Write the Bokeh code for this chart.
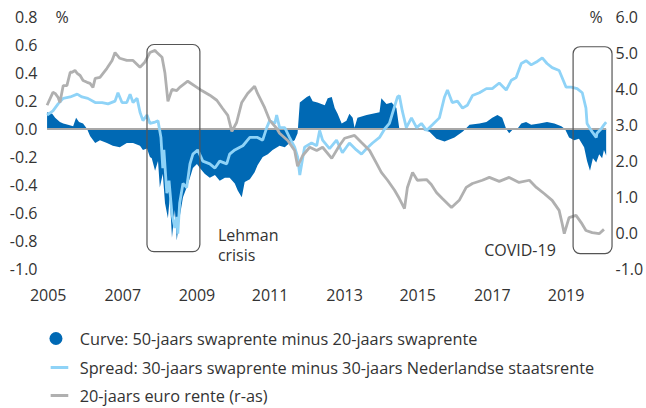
from bokeh.plotting import figure
from bokeh.models import Range1d, LinearAxis, FixedTicker, CustomJSTickFormatter, BoxAnnotation, Label
from bokeh.layouts import column
from bokeh.embed import file_html
from bokeh.resources import INLINE
from bokeh.core.properties import value

# ---------------- data ----------------
# Curve: 50y swap minus 20y swap (left axis, %)
curve_t = [2005.57, 2005.71, 2005.79, 2005.92, 2006.01, 2006.14, 2006.28, 2006.36, 2006.44, 2006.55,
           2006.66, 2006.74, 2006.88, 2007.01, 2007.20, 2007.36, 2007.55, 2007.74, 2007.91, 2008.10,
           2008.18, 2008.29, 2008.37, 2008.42, 2008.51, 2008.59, 2008.64, 2008.72, 2008.78, 2008.86,
           2008.91, 2008.97, 2009.05, 2009.10, 2009.18, 2009.27, 2009.37, 2009.46, 2009.54, 2009.65,
           2009.73, 2009.86, 2010.00, 2010.14, 2010.27, 2010.41, 2010.54, 2010.68, 2010.76, 2010.87,
           2010.95, 2011.09, 2011.22, 2011.30, 2011.44, 2011.58, 2011.71, 2011.90, 2012.04, 2012.17,
           2012.31, 2012.39, 2012.45, 2012.64, 2012.72, 2012.80, 2012.93, 2013.13, 2013.21, 2013.32,
           2013.40, 2013.48, 2013.59, 2013.72, 2013.80, 2013.89, 2013.94, 2014.02, 2014.27, 2014.43,
           2014.62, 2014.67, 2014.81, 2014.95, 2015.08, 2015.16, 2015.43, 2015.71, 2015.98, 2016.17,
           2016.39, 2016.66, 2016.88, 2016.96, 2017.07, 2017.34, 2017.53, 2017.69, 2017.83, 2017.96,
           2018.07, 2018.15, 2018.26, 2018.37, 2018.48, 2018.61, 2018.75, 2018.97, 2019.18, 2019.38,
           2019.57, 2019.67, 2019.78, 2019.92, 2020.05, 2020.19, 2020.27, 2020.35, 2020.43, 2020.52,
           2020.60, 2020.68, 2020.73, 2020.79]
curve = [0.12, 0.11, 0.08, 0.05, 0.04, 0.03, 0.02, 0.08, 0.05, 0.04,
         0.00, -0.05, -0.10, -0.08, -0.10, -0.12, -0.13, -0.10, -0.10, -0.12,
         -0.15, -0.14, -0.20, -0.21, -0.30, -0.23, -0.42, -0.32, -0.53, -0.64,
         -0.49, -0.78, -0.58, -0.80, -0.63, -0.49, -0.42, -0.35, -0.28, -0.25,
         -0.28, -0.32, -0.35, -0.33, -0.37, -0.35, -0.35, -0.39, -0.44, -0.49,
         -0.38, -0.36, -0.31, -0.26, -0.20, -0.18, -0.15, -0.12, -0.13, -0.10,
         -0.08, -0.03, 0.19, 0.23, 0.24, 0.20, 0.19, 0.17, 0.22, 0.23,
         0.15, 0.11, 0.04, 0.06, 0.11, 0.08, 0.01, 0.08, 0.10, 0.11,
         0.12, 0.22, 0.18, 0.19, 0.15, 0.00, 0.00, 0.00, -0.02, -0.07,
         -0.09, -0.06, -0.02, 0.00, 0.03, 0.04, 0.05, 0.08, 0.10, 0.08,
         0.00, -0.03, 0.00, 0.00, 0.04, 0.05, 0.03, 0.04, 0.05, 0.04,
         0.02, 0.00, -0.06, -0.08, -0.07, -0.13, -0.23, -0.30, -0.21, -0.24,
         -0.18, -0.21, -0.15, -0.19]

# Spread: 30y swap minus 30y Dutch government yield (left axis, %)
spread_t = [2005.57, 2005.73, 2005.87, 2006.01, 2006.20, 2006.39, 2006.52, 2006.68, 2006.88, 2007.07,
            2007.23, 2007.42, 2007.50, 2007.61, 2007.74, 2007.83, 2007.91, 2008.02, 2008.10, 2008.18,
            2008.29, 2008.37, 2008.51, 2008.59, 2008.67, 2008.72, 2008.75, 2008.83, 2008.89, 2008.97,
            2009.05, 2009.10, 2009.13, 2009.18, 2009.27, 2009.37, 2009.46, 2009.54, 2009.67, 2009.81,
            2010.00, 2010.14, 2010.27, 2010.46, 2010.54, 2010.68, 2010.82, 2010.90, 2011.09, 2011.30,
            2011.44, 2011.55, 2011.63, 2011.77, 2011.82, 2011.90, 2012.04, 2012.17, 2012.31, 2012.39,
            2012.45, 2012.58, 2012.77, 2012.91, 2012.99, 2013.07, 2013.26, 2013.45, 2013.61, 2013.80,
            2013.99, 2014.13, 2014.27, 2014.43, 2014.62, 2014.76, 2014.89, 2014.97, 2015.11, 2015.16,
            2015.24, 2015.35, 2015.49, 2015.63, 2015.76, 2015.90, 2016.06, 2016.25, 2016.39, 2016.47,
            2016.60, 2016.74, 2016.88, 2017.01, 2017.15, 2017.34, 2017.53, 2017.69, 2017.88, 2018.07,
            2018.21, 2018.34, 2018.48, 2018.61, 2018.75, 2018.89, 2019.05, 2019.18, 2019.32, 2019.51,
            2019.59, 2019.70, 2019.84, 2020.00, 2020.14, 2020.24, 2020.27, 2020.38, 2020.52, 2020.54,
            2020.65, 2020.73, 2020.79]
spread = [0.10, 0.13, 0.18, 0.22, 0.23, 0.25, 0.23, 0.22, 0.19, 0.19,
          0.18, 0.20, 0.26, 0.19, 0.19, 0.25, 0.19, 0.22, 0.12, 0.06,
          0.10, 0.04, 0.05, 0.06, -0.06, -0.28, -0.15, -0.46, -0.37, -0.61,
          -0.71, -0.63, -0.75, -0.53, -0.39, -0.42, -0.25, -0.18, -0.15, -0.23,
          -0.25, -0.28, -0.23, -0.25, -0.18, -0.15, -0.13, -0.12, -0.06, -0.06,
          -0.08, 0.01, 0.06, 0.04, 0.10, 0.01, 0.01, -0.06, -0.13, -0.20,
          -0.33, -0.13, -0.10, -0.12, -0.01, -0.08, -0.14, -0.08, -0.17, -0.10,
          -0.15, -0.18, -0.14, -0.10, -0.06, 0.00, 0.04, 0.11, 0.23, 0.24,
          0.13, 0.01, 0.08, 0.01, 0.04, -0.01, 0.03, 0.08, 0.23, 0.28,
          0.19, 0.20, 0.15, 0.17, 0.24, 0.26, 0.29, 0.29, 0.33, 0.28,
          0.35, 0.37, 0.47, 0.49, 0.46, 0.48, 0.51, 0.47, 0.44, 0.42,
          0.37, 0.30, 0.30, 0.29, 0.26, 0.15, 0.04, -0.01, -0.06, -0.03,
          0.00, 0.03, 0.05]

# 20-year euro rate (right axis, %)
euro_t = [2005.57, 2005.73, 2005.79, 2005.87, 2005.92, 2006.01, 2006.11, 2006.20, 2006.25, 2006.33,
          2006.39, 2006.47, 2006.55, 2006.66, 2006.74, 2006.82, 2006.88, 2007.01, 2007.20, 2007.34,
          2007.42, 2007.55, 2007.74, 2007.91, 2008.10, 2008.23, 2008.37, 2008.51, 2008.56, 2008.70,
          2008.78, 2008.86, 2008.97, 2009.10, 2009.18, 2009.40, 2009.65, 2009.78, 2010.00, 2010.19,
          2010.35, 2010.49, 2010.60, 2010.73, 2010.87, 2011.03, 2011.22, 2011.30, 2011.49, 2011.63,
          2011.82, 2011.90, 2012.12, 2012.31, 2012.39, 2012.53, 2012.72, 2012.91, 2013.07, 2013.32,
          2013.53, 2013.67, 2013.94, 2014.13, 2014.35, 2014.54, 2014.67, 2014.84, 2015.03, 2015.16,
          2015.30, 2015.38, 2015.52, 2015.65, 2015.90, 2016.03, 2016.17, 2016.33, 2016.58, 2016.79,
          2016.98, 2017.15, 2017.42, 2017.61, 2017.88, 2018.15, 2018.42, 2018.70, 2018.89, 2019.10,
          2019.32, 2019.51, 2019.59, 2019.65, 2019.78, 2019.97, 2020.11, 2020.24, 2020.41, 2020.60,
          2020.73]
euro = [3.55, 3.91, 3.88, 3.77, 3.63, 4.10, 4.10, 4.47, 4.47, 4.52,
        4.44, 4.38, 4.24, 4.19, 4.16, 4.05, 4.30, 4.33, 4.58, 4.80,
        5.02, 4.86, 4.80, 4.80, 4.61, 4.75, 5.02, 5.08, 5.02, 4.89,
        4.44, 3.66, 3.99, 3.96, 4.05, 4.22, 4.05, 3.96, 3.83, 3.69,
        3.46, 3.27, 2.82, 3.07, 3.63, 3.88, 4.08, 3.88, 3.49, 3.13,
        2.91, 2.77, 2.57, 2.29, 1.85, 2.15, 2.38, 2.29, 2.38, 2.07,
        2.43, 2.63, 2.71, 2.51, 2.29, 1.93, 1.68, 1.46, 1.18, 0.95,
        0.67, 1.26, 1.68, 1.46, 1.48, 1.34, 1.12, 0.95, 0.70, 0.90,
        1.26, 1.37, 1.46, 1.54, 1.43, 1.54, 1.40, 1.46, 1.26, 1.09,
        0.90, 0.62, 0.26, -0.03, 0.42, 0.48, 0.28, 0.06, 0.00, -0.03,
        0.09]

left_ticks = [-1.0, -0.8, -0.6, -0.4, -0.2, 0.0, 0.2, 0.4, 0.6, 0.8]
right_ticks = [-1.0, 0.0, 1.0, 2.0, 3.0, 4.0, 5.0, 6.0]
year_ticks = [2005.60, 2007.63, 2009.65, 2011.64, 2013.67, 2015.66, 2017.69, 2019.70]

legend_labels = ["Curve: 50-jaars swaprente minus 20-jaars swaprente",
                 "Spread: 30-jaars swaprente minus 30-jaars Nederlandse staatsrente",
                 "20-jaars euro rente (r-as)"]

# ---------------- style ----------------
FONT = "Open Sans"
TXT = "#333333"
DARK = "#0069B4"
LIGHT = "#8FD3F7"
GREY = "#B0B0B0"
FS = "16px"
LFS = "16.3px"

# left range -1.0..0.9 (top padding above the 0.8 tick), right range aligned to it
p = figure(width=646, height=310, x_range=Range1d(2005.5, 2020.99), y_range=Range1d(-1.0, 0.9),
           output_backend="svg", toolbar_location=None,
           min_border_left=44, min_border_right=32, min_border_top=3, min_border_bottom=42)
p.xgrid.visible = False
p.ygrid.visible = False
p.outline_line_color = None
p.background_fill_color = "white"

p.extra_y_ranges = {"r": Range1d(-1.0, 6.387)}

# series
p.varea(x=curve_t, y1=0, y2=curve, fill_color=DARK)
p.line(x=[curve_t[0], curve_t[-1]], y=[0, 0], line_color="#A8A8A8", line_width=2)
p.line(x=spread_t, y=spread, line_color=LIGHT, line_width=2.8)
p.line(x=euro_t, y=euro, y_range_name="r", line_color=GREY, line_width=2.8)

# axes
def style_axis(ax):
    ax.axis_line_color = None
    ax.major_tick_line_color = None
    ax.minor_tick_line_color = None
    ax.major_tick_out = 0
    ax.major_tick_in = 0
    ax.minor_tick_out = 0
    ax.minor_tick_in = 0
    ax.major_label_text_font = FONT
    ax.major_label_text_font_size = FS
    ax.major_label_text_color = TXT

p.xaxis.ticker = FixedTicker(ticks=year_ticks)
p.xaxis.formatter = CustomJSTickFormatter(code="return String(Math.floor(tick));")
p.xaxis.major_label_standoff = 20
style_axis(p.xaxis[0])

p.yaxis.ticker = FixedTicker(ticks=left_ticks)
p.yaxis.formatter = CustomJSTickFormatter(code="return tick.toFixed(1);")
p.yaxis.major_label_standoff = 7
style_axis(p.yaxis[0])

rax = LinearAxis(y_range_name="r", ticker=FixedTicker(ticks=right_ticks),
                 formatter=CustomJSTickFormatter(code="return tick.toFixed(1);"))
rax.major_label_standoff = 2
style_axis(rax)
p.add_layout(rax, "right")

# annotation boxes
for l, r, b, t in [(2008.29, 2009.73, -0.879, 0.606), (2019.89, 2020.95, -0.893, 0.59)]:
    p.add_layout(BoxAnnotation(left=l, right=r, bottom=b, top=t, fill_alpha=0,
                               line_color="#555555", line_alpha=1.0, line_width=1.2,
                               border_radius=7))

for x, y, txt, align in [(2010.22, -0.76, "Lehman", "left"), (2010.22, -0.90, "crisis", "left"),
                         (2017.47, -0.868, "COVID-19", "left"),
                         (2005.98, 0.8, "%", "center"), (2020.52, 0.8, "%", "center")]:
    p.add_layout(Label(x=x, y=y, text=txt, text_align=align, text_baseline="middle",
                       text_font=FONT, text_font_size=FS, text_color=TXT))

# ---------------- legend ----------------
leg = figure(width=646, height=98, x_range=Range1d(0, 646), y_range=Range1d(98, 0),
             output_backend="svg", toolbar_location=None, min_border=0,
             x_axis_type=None, y_axis_type=None)
leg.xgrid.visible = False
leg.ygrid.visible = False
leg.outline_line_color = None
rows = [28, 57, 85]
leg.scatter(x=[13], y=[rows[0]], size=13, fill_color=DARK, line_color=None)
leg.line(x=[7, 27], y=[rows[1], rows[1]], line_color=LIGHT, line_width=3)
leg.line(x=[7, 27], y=[rows[2], rows[2]], line_color=GREY, line_width=3)
leg.text(x=[40] * 3, y=rows, text=legend_labels, text_font=value(FONT), text_font_size=LFS,
         text_color=TXT, text_baseline="middle", text_align="left")

layout = column(p, leg, spacing=0)
open("out.html", "w").write(file_html(layout, INLINE))
